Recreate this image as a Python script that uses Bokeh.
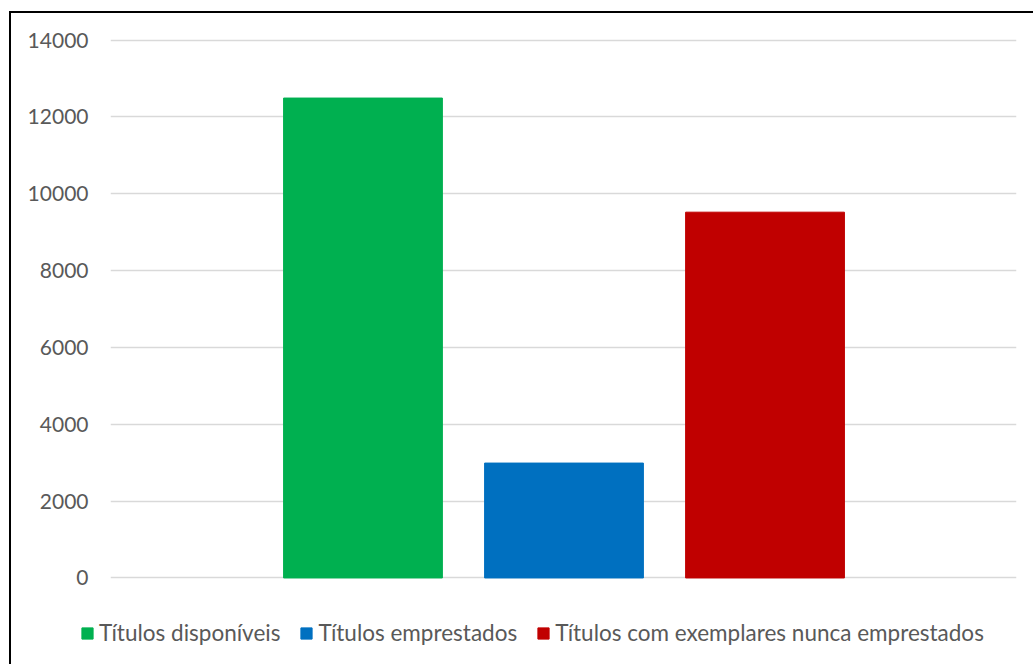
from bokeh.plotting import figure
from bokeh.models import ColumnDataSource, Range1d, FixedTicker, Legend, LegendItem
from bokeh.embed import file_html
from bokeh.resources import INLINE

series = ["Títulos disponíveis", "Títulos emprestados", "Títulos com exemplares nunca emprestados"]
values = [12490, 2990, 9520]
colors = ["#00B050", "#0070C0", "#C00000"]
y_ticks = [0, 2000, 4000, 6000, 8000, 10000, 12000, 14000]

xs = list(range(len(series)))
src = ColumnDataSource(dict(x=xs, top=values, name=series, color=colors))

FONT = "Lato"
GREY = "#595959"

# main chart
p = figure(width=1024, height=586, output_backend="svg", toolbar_location=None,
           x_range=Range1d(-1.256, 3.251), y_range=Range1d(-40, 14040),
           min_border_left=99, min_border_right=19, min_border_top=25, min_border_bottom=20)
p.margin = (11, 0, 0, 9)
p.styles = {"border-left": "2px solid black", "border-top": "2px solid black"}
p.outline_line_color = None
p.background_fill_color = "white"
p.border_fill_color = "white"

p.vbar(x="x", top="top", bottom=0, width=0.79, color="color", source=src)

p.xaxis.visible = False
p.xgrid.visible = False
yax = p.yaxis[0]
yax.ticker = FixedTicker(ticks=y_ticks)
yax.axis_line_color = None
yax.major_tick_line_color = None
yax.minor_tick_line_color = None
yax.major_label_text_font = FONT
yax.major_label_text_font_size = "21px"
yax.major_label_text_color = GREY
yax.major_label_standoff = 16
p.ygrid.ticker = FixedTicker(ticks=y_ticks)
p.ygrid.grid_line_color = "#D9D9D9"
p.ygrid.grid_line_width = 1.6

# legend strip (proxy renderers kept far outside its visible ranges)
lg = figure(width=1024, height=67, output_backend="svg", toolbar_location=None,
            x_range=Range1d(-1000, -999), y_range=Range1d(-100000, -90000),
            min_border_left=0, min_border_right=0, min_border_top=0, min_border_bottom=0)
lg.margin = (0, 0, 0, 9)
lg.styles = {"border-left": "2px solid black"}
lg.axis.visible = False
lg.grid.visible = False
lg.outline_line_color = None
lg.background_fill_color = "white"
lg.border_fill_color = "white"
items = []
for i, (name, col) in enumerate(zip(series, colors)):
    r = lg.vbar(x=[xs[i]], top=[values[i]], bottom=0, width=0.5, color=col)
    items.append(LegendItem(label=name, renderers=[r]))
leg = Legend(items=items, orientation="horizontal", location=(69, 18),
             glyph_width=14, glyph_height=14, label_standoff=5, spacing=19,
             padding=0, margin=0, border_line_color=None, background_fill_alpha=0,
             label_text_font=FONT, label_text_font_size="22.5px", label_text_color=GREY)
lg.add_layout(leg, "center")

open("out.html", "w").write(file_html([p, lg], INLINE))
